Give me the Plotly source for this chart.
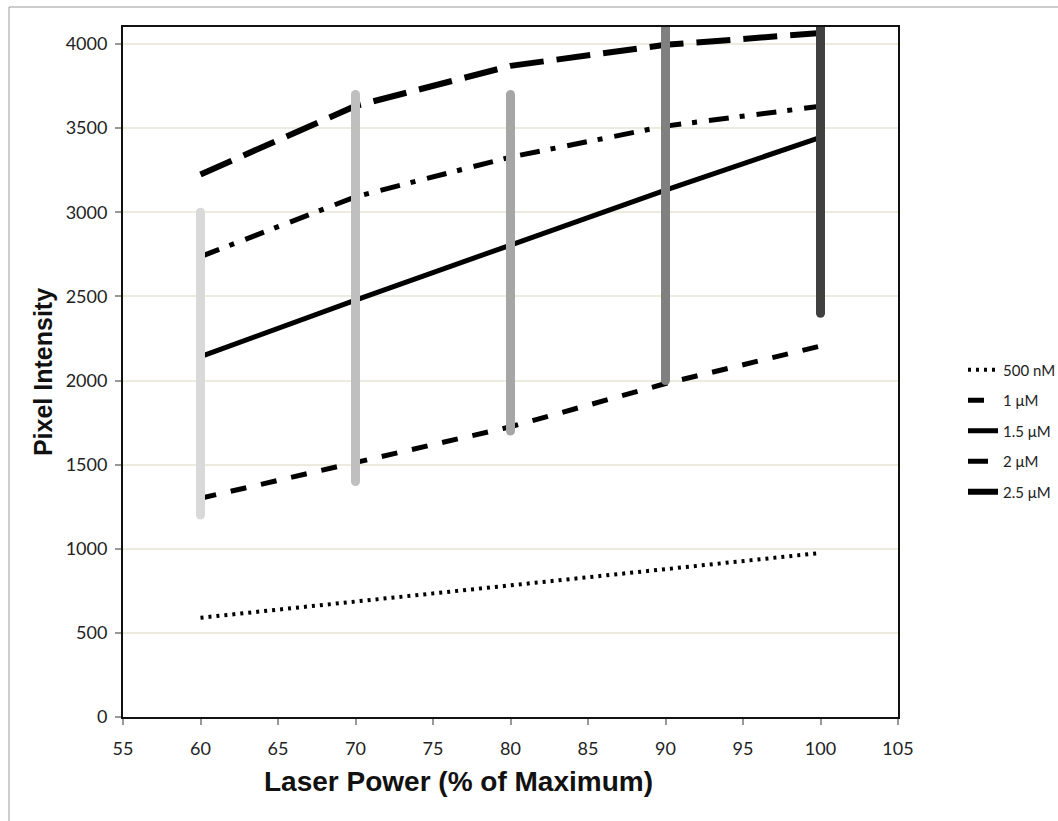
import plotly.graph_objects as go

# Laser power settings (% of maximum)
laser_power = [60, 70, 80, 90, 100]

# Mean pixel intensity for each dye concentration
series_names = ["500 nM", "1 \u03bcM", "1.5 \u03bcM", "2 \u03bcM", "2.5 \u03bcM"]
int_500nM = [590, 685, 780, 877, 975]
int_1uM = [1300, 1515, 1725, 1982, 2205]
int_1_5uM = [2142, 2478, 2805, 3132, 3445]
int_2uM = [2736, 3092, 3328, 3512, 3630]
int_2_5uM = [3225, 3632, 3870, 3995, 4065]

# Intensity ranges spanned at each laser power
range_low = [1200, 1400, 1700, 2000, 2400]
range_high = [3000, 3700, 3700, 4400, 4400]

x_ticks = [55, 60, 65, 70, 75, 80, 85, 90, 95, 100, 105]
y_ticks = [0, 500, 1000, 1500, 2000, 2500, 3000, 3500, 4000]

# styling
line_styles = [
    dict(width=4, dash="3px,5px"),
    dict(width=5, dash="16px,15px"),
    dict(width=5, dash="solid"),
    dict(width=5, dash="20px,11px,5px,12px"),
    dict(width=6, dash="34px,13px"),
]
range_colors = ["#d9d9d9", "#bfbfbf", "#a6a6a6", "#808080", "#404040"]

W, H = 1058, 821
L, R, T, B = 123, 160, 27, 104

fig = go.Figure()

all_series = [int_500nM, int_1uM, int_1_5uM, int_2uM, int_2_5uM]
for name, vals, st in zip(series_names, all_series, line_styles):
    fig.add_trace(go.Scatter(
        x=laser_power, y=vals, mode="lines", name=name,
        legendgroup=name,
        line=dict(color="black", width=st["width"], dash=st["dash"]),
    ))

# vertical range bars with rounded ends
for xv, lo, hi, col in zip(laser_power, range_low, range_high, range_colors):
    fig.add_trace(go.Scatter(
        x=[xv, xv], y=[lo, hi], mode="lines+markers",
        line=dict(color=col, width=9),
        marker=dict(color=col, size=9, symbol="circle", line=dict(width=0)),
        showlegend=False, hoverinfo="skip",
    ))

pw = W - L - R
ph = H - T - B

def px_x(p):
    return (p - L) / pw

def px_y(p):
    return (H - B - p) / ph

# outer chart frame (top and left edges visible)
fig.add_shape(type="line", xref="paper", yref="paper",
              x0=px_x(9), x1=px_x(1058), y0=px_y(7), y1=px_y(7),
              line=dict(color="#9a9a9a", width=1))
fig.add_shape(type="line", xref="paper", yref="paper",
              x0=px_x(9), x1=px_x(9), y0=px_y(7), y1=px_y(821),
              line=dict(color="#9a9a9a", width=1))

# x-axis title, centred on the chart area
fig.add_annotation(
    text="<b>Laser Power (% of Maximum)</b>", xref="paper", yref="paper",
    x=px_x(458), y=px_y(781), xanchor="center", yanchor="middle", showarrow=False,
    font=dict(family="Liberation Sans, Arial, sans-serif", size=28, color="#111111"),
)

tick_font = dict(family="Lato, Open Sans, sans-serif", size=18, color="#222222")

fig.update_layout(
    width=W, height=H, autosize=False,
    margin=dict(l=L, r=R, t=T, b=B, pad=0, autoexpand=False),
    paper_bgcolor="white", plot_bgcolor="white",
    showlegend=True,
    legend=dict(
        xref="container", yref="container",
        x=963 / W, xanchor="left", y=(H - 431) / H, yanchor="middle",
        font=dict(family="Lato, Open Sans, sans-serif", size=15, color="#222222"),
        tracegroupgap=8, bgcolor="rgba(0,0,0,0)", itemwidth=30,
    ),
    xaxis=dict(
        range=[55, 105], tickvals=x_ticks, ticktext=[str(v) for v in x_ticks],
        showgrid=False, zeroline=False,
        showline=True, linecolor="#111111", linewidth=2, mirror=True,
        ticks="outside", ticklen=6, tickcolor="#999999", tickwidth=2,
        tickfont=tick_font, ticklabelstandoff=8,
    ),
    yaxis=dict(
        range=[0, 4101], tickvals=y_ticks, ticktext=[str(v) for v in y_ticks],
        showgrid=True, gridcolor="#ecebdd", gridwidth=2, zeroline=False,
        showline=True, linecolor="#111111", linewidth=2, mirror=True,
        ticks="outside", ticklen=6, tickcolor="#999999", tickwidth=2,
        tickfont=tick_font, ticklabelstandoff=4,
        title=dict(text="Pixel Intensity",
                   font=dict(family="Liberation Sans, Arial, sans-serif", size=25, color="#111111", weight="bold"),
                   standoff=6),
    ),
)

fig.write_html("out.html")
